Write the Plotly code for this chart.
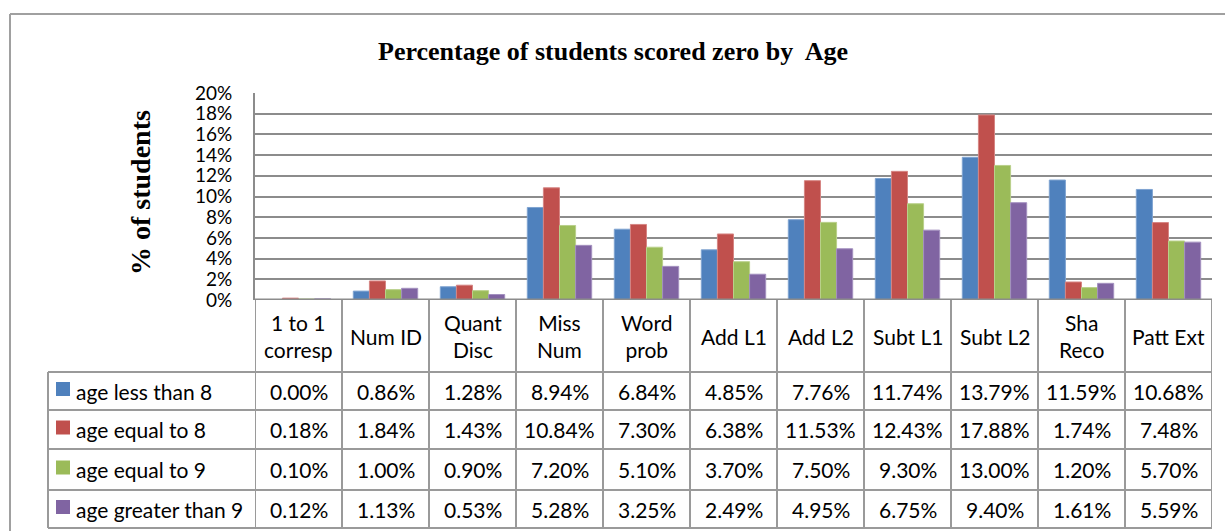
import plotly.graph_objects as go

categories = ["1 to 1<br>corresp", "Num ID", "Quant<br>Disc", "Miss<br>Num", "Word<br>prob",
              "Add L1", "Add L2", "Subt L1", "Subt L2", "Sha<br>Reco", "Patt Ext"]
series_names = ["age less than 8", "age equal to 8", "age equal to 9", "age greater than 9"]
age_lt_8 = [0.00, 0.86, 1.28, 8.94, 6.84, 4.85, 7.76, 11.74, 13.79, 11.59, 10.68]
age_eq_8 = [0.18, 1.84, 1.43, 10.84, 7.30, 6.38, 11.53, 12.43, 17.88, 1.74, 7.48]
age_eq_9 = [0.10, 1.00, 0.90, 7.20, 5.10, 3.70, 7.50, 9.30, 13.00, 1.20, 5.70]
age_gt_9 = [0.12, 1.13, 0.53, 5.28, 3.25, 2.49, 4.95, 6.75, 9.40, 1.61, 5.59]
series_values = [age_lt_8, age_eq_8, age_eq_9, age_gt_9]
colors = ["#4F81BD", "#C0504D", "#9BBB59", "#8064A2"]
edge_colors = ["#7FA3D1", "#D68583", "#B9D08A", "#A390BF"]
y_ticks = [0, 2, 4, 6, 8, 10, 12, 14, 16, 18, 20]

W, H = 1225, 531
def px(x):
    return x / W
def py(y):
    return 1 - y / H

PLOT_L, PLOT_R, PLOT_T, PLOT_B = 255, 1212, 93, 300
LEG_L = 48
ROWS = [372, 410, 449, 490, 528]
GRID = "#8C8C8C"
TABLE = "#9A9A9A"
FONT = "Lato"
TFS = 21

fig = go.Figure()
idx = list(range(len(categories)))
for name, vals, c, ec in zip(series_names, series_values, colors, edge_colors):
    fig.add_trace(go.Bar(x=idx, y=vals, name=name, marker=dict(color=c, line=dict(color=ec, width=1)),
                         showlegend=False))

shapes = []
annotations = []

# outer chart border
shapes.append(dict(type="line", xref="paper", yref="paper", x0=px(10), x1=px(1240), y0=py(14), y1=py(14),
                   line=dict(color="#A0A0A0", width=2)))
shapes.append(dict(type="line", xref="paper", yref="paper", x0=px(10), x1=px(10), y0=py(14), y1=py(545),
                   line=dict(color="#A0A0A0", width=2)))

n = len(categories)
# axis baseline drawn over bars
shapes.append(dict(type="line", xref="x", yref="y", x0=-0.5, x1=n - 0.5, y0=0, y1=0,
                   line=dict(color=GRID, width=3), layer="above"))
# header vertical lines (column boundaries) via x axis
for i in range(n + 1):
    shapes.append(dict(type="line", xref="x", yref="paper", x0=i - 0.5, x1=i - 0.5,
                       y0=py(PLOT_B), y1=py(ROWS[-1]), line=dict(color=TABLE, width=2)))
# legend column lines
shapes.append(dict(type="line", xref="paper", yref="paper", x0=px(LEG_L), x1=px(LEG_L),
                   y0=py(ROWS[0]), y1=py(ROWS[-1]), line=dict(color=TABLE, width=2)))
for r in ROWS:
    shapes.append(dict(type="line", xref="paper", yref="paper", x0=px(LEG_L), x1=px(PLOT_R),
                       y0=py(r), y1=py(r), line=dict(color=TABLE, width=2)))

# header labels
for i, cat in enumerate(categories):
    annotations.append(dict(x=i, y=py((PLOT_B + ROWS[0]) / 2), xref="x", yref="paper", text=cat,
                            showarrow=False, font=dict(family=FONT, size=TFS, color="#000"),
                            xanchor="center", yanchor="middle", align="center"))
# rows
for k, (name, vals, c) in enumerate(zip(series_names, series_values, colors)):
    yc = (ROWS[k] + ROWS[k + 1]) / 2
    shapes.append(dict(type="rect", xref="paper", yref="paper", x0=px(56), x1=px(70),
                       y0=py(yc - 9), y1=py(yc + 5), fillcolor=c, line=dict(width=0)))
    annotations.append(dict(x=px(74), y=py(yc), xref="paper", yref="paper", text=name,
                            showarrow=False, font=dict(family=FONT, size=TFS, color="#000"),
                            xanchor="left", yanchor="middle"))
    for i, v in enumerate(vals):
        annotations.append(dict(x=i, y=py(yc), xref="x", yref="paper", text=f"{v:.2f}%",
                                showarrow=False, font=dict(family=FONT, size=TFS, color="#000"),
                                xanchor="center", yanchor="middle"))

# titles
annotations.append(dict(x=px(613), y=py(51), xref="paper", yref="paper",
                        text="<b>Percentage of students scored zero by\u00a0 Age</b>", showarrow=False,
                        font=dict(family="Liberation Serif", size=26, color="#000"),
                        xanchor="center", yanchor="middle"))
annotations.append(dict(x=px(140), y=py(193), xref="paper", yref="paper",
                        text="<b>% of students</b>", showarrow=False, textangle=-90,
                        font=dict(family="Liberation Serif", size=28, color="#000"),
                        xanchor="center", yanchor="middle"))

fig.update_layout(
    width=W, height=H, margin=dict(l=0, r=0, t=0, b=0, pad=0, autoexpand=False),
    paper_bgcolor="white", plot_bgcolor="white",
    barmode="group", bargap=0.26, bargroupgap=0,
    xaxis=dict(domain=[px(PLOT_L), px(PLOT_R)], range=[-0.5, n - 0.5], showticklabels=False,
               showgrid=False, zeroline=False, showline=False, ticks="", automargin=False),
    yaxis=dict(domain=[py(PLOT_B), py(PLOT_T)], range=[0, 20], tickvals=y_ticks,
               ticktext=[f"{t}%" for t in y_ticks], showgrid=True, gridcolor=GRID, gridwidth=2,
               zeroline=False, showline=True, linecolor=GRID, linewidth=2, ticks="", automargin=False,
               ticklabelstandoff=17, tickfont=dict(family=FONT, size=19, color="#000")),
    shapes=shapes, annotations=annotations,
)

fig.write_html("out.html", config={"displayModeBar": False},
               post_script="document.body.style.margin='0';document.body.style.padding='0';")
